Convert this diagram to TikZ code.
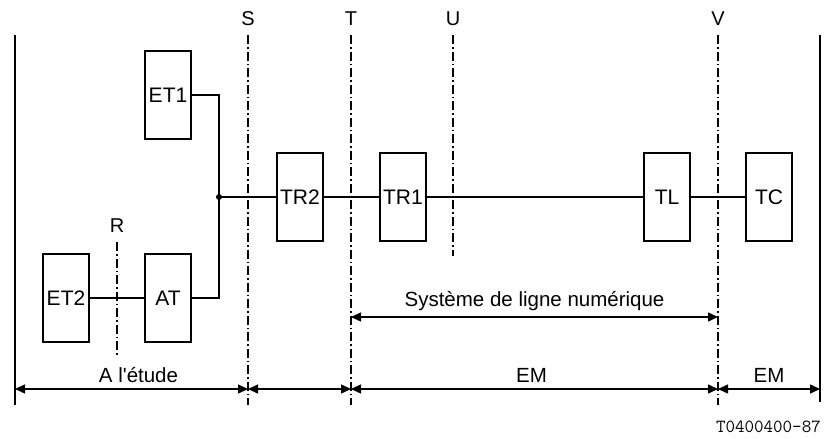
\documentclass[tikz,border=0pt]{standalone}
\usepackage{fontspec}
\setmainfont{Liberation Sans}
\usetikzlibrary{arrows.meta, positioning}

\begin{document}
\begin{tikzpicture}[x=1pt, y=-1pt,
  unitbox/.style={draw, line width=1.7pt, minimum width=46pt, minimum height=88pt, inner sep=0pt, font=\fontsize{21}{24}\selectfont},
  refline/.style={line width=1.5pt, dash pattern=on 9pt off 3pt on 1.5pt off 3pt},
  refname/.style={font=\fontsize{20}{22}\selectfont},
  wire/.style={line width=1.4pt},
  dimline/.style={line width=1.4pt, {Triangle[length=10pt, width=9pt]}-{Triangle[length=10pt, width=9pt]}},
  dimtext/.style={font=\fontsize{20.5}{22}\selectfont}
]
  \useasboundingbox (0,0) rectangle (825,439);

  % outer limits
  \draw[line width=1.6pt] (15,35) -- (15,405);
  \draw[line width=1.6pt] (820,35) -- (820,402);

  % reference points
  \node[refname] (R) at (117,226) {R};
  \node[refname] (S) at (248,19) {S};
  \node[refname] (T) at (351,19) {T};
  \node[refname] (U) at (453,19) {U};
  \node[refname] (V) at (718,19) {V};
  \draw[refline] (117,242) -- (117,355);
  \draw[refline] (248,35) -- (248,405);
  \draw[refline] (351,35) -- (351,405);
  \draw[refline] (453,35) -- (453,256);
  \draw[refline] (718,35) -- (718,405);

  % equipment
  \node[unitbox] (et1) at (168,95) {ET1};
  \node[unitbox] (et2) at (66,298) {ET2};
  \node[unitbox] (at) at (168,298) {AT};
  \node[unitbox] (tr2) at (300,197) {TR2};
  \node[unitbox] (tr1) at (403,197) {TR1};
  \node[unitbox] (tl) at (667,197) {TL};
  \node[unitbox] (tc) at (769,197) {TC};

  % connections
  \coordinate (jn) at (219,197);
  \fill (jn) circle (3pt);
  \draw[wire] (et1.east) -| (jn);
  \draw[wire] (at.east) -| (jn);
  \draw[wire] (et2) -- (at);
  \draw[wire] (jn) -- (tr2);
  \draw[wire] (tr2) -- (tr1);
  \draw[wire] (tr1) -- (tl);
  \draw[wire] (tl) -- (tc);

  % extents
  \draw[dimline] (351,317) -- node[dimtext, above=2pt] {Système de ligne numérique} (718,317);
  \draw[dimline] (15,389) -- node[dimtext, above=2pt, xshift=7pt] {A l\textquotesingle étude} (248,389);
  \draw[dimline] (248,389) -- (351,389);
  \draw[dimline] (351,389) -- node[dimtext, above=2pt, xshift=-3pt] {EM} (718,389);
  \draw[dimline] (718,389) -- node[dimtext, above=2pt] {EM} (820,389);

  \node[font=\ttfamily\fontsize{18.5}{20}\selectfont, anchor=east, inner sep=0pt] (ref) at (821,427) {T0400400-87};
\end{tikzpicture}
\end{document}
